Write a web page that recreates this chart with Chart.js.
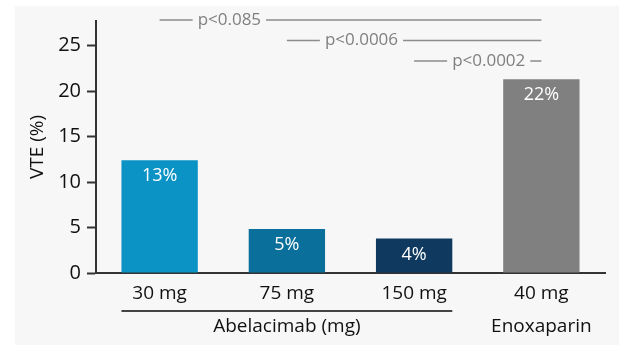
<!DOCTYPE html>
<html><head><meta charset="utf-8">
<script src="https://cdn.jsdelivr.net/npm/chart.js@4/dist/chart.umd.min.js"></script>
<style>html,body{margin:0;padding:0;background:#fff}#wrap{width:636px;height:352px;position:relative}</style>
</head><body><div id="wrap"><canvas id="c" width="636" height="352"></canvas></div>
<script>
const categories = ["30 mg", "75 mg", "150 mg", "40 mg"];
const vteValues = [12.4, 4.85, 3.8, 21.3];
const valueLabels = ["13%", "5%", "4%", "22%"];
const barColors = ["#0b93c5", "#0b6f9b", "#10395f", "#808080"];
const yTicks = [0, 5, 10, 15, 20, 25];
const groups = [{label: "Abelacimab (mg)", from: 0, to: 2, underline: true}, {label: "Enoxaparin", from: 3, to: 3, underline: false}];
const pLabels = ["p<0.085", "p<0.0006", "p<0.0002"];
const pFrom = [0, 1, 2];
const pTo = [3, 3, 3];

const FONT = "'Open Sans', sans-serif";

const decor = {
  id: 'decor',
  beforeDraw(chart) {
    const ctx = chart.ctx;
    ctx.save();
    ctx.fillStyle = '#f7f7f7';
    ctx.fillRect(15, 6, 604, 339);
    ctx.restore();
  },
  afterDatasetsDraw(chart) {
    const ctx = chart.ctx;
    const meta = chart.getDatasetMeta(0);
    const x = chart.scales.x;
    ctx.save();
    ctx.fillStyle = '#ffffff';
    ctx.font = "18px " + FONT;
    ctx.textAlign = 'center';
    ctx.textBaseline = 'middle';
    meta.data.forEach((bar, i) => {
      ctx.fillText(valueLabels[i], bar.x, bar.y + 16);
    });
    ctx.font = "17px " + FONT;
    ctx.strokeStyle = '#8c8c8c';
    ctx.lineWidth = 1.5;
    pLabels.forEach((lab, i) => {
      const y = chart.chartArea.top - 1 + i * 20.5;
      const x0 = x.getPixelForValue(pFrom[i]);
      const x1 = x.getPixelForValue(pTo[i]);
      const tw = ctx.measureText(lab).width;
      const ts = x0 + 38;
      ctx.beginPath();
      ctx.moveTo(x0, y); ctx.lineTo(ts - 5, y);
      ctx.moveTo(ts + tw + 5, y); ctx.lineTo(x1, y);
      ctx.stroke();
      ctx.fillStyle = '#7f7f7f';
      ctx.textAlign = 'left';
      ctx.fillText(lab, ts, y);
    });
    ctx.font = "19px " + FONT;
    ctx.fillStyle = '#111';
    ctx.strokeStyle = '#444';
    ctx.lineWidth = 2;
    groups.forEach(g => {
      const a = meta.data[g.from], b = meta.data[g.to];
      const l = a.x - a.width / 2, r = b.x + b.width / 2;
      if (g.underline) {
        ctx.beginPath(); ctx.moveTo(l, 311); ctx.lineTo(r, 311); ctx.stroke();
      }
      ctx.textAlign = 'center';
      ctx.fillText(g.label, (a.x + b.x) / 2, 327);
    });
    ctx.restore();
  }
};

new Chart(document.getElementById('c'), {
  type: 'bar',
  data: {
    labels: categories,
    datasets: [{ data: vteValues, backgroundColor: barColors, borderWidth: 0, barPercentage: 0.6, categoryPercentage: 1.0 }]
  },
  options: {
    responsive: false,
    animation: false,
    devicePixelRatio: 1,
    layout: { padding: { left: 0, top: 21, right: 31, bottom: 0 } },
    plugins: { legend: { display: false }, tooltip: { enabled: false } },
    scales: {
      x: {
        grid: { display: false, drawTicks: false },
        border: { color: '#333', width: 2 },
        ticks: { color: '#111', font: { family: FONT, size: 19 }, padding: 9 },
        afterFit(s) { s.height = 79; }
      },
      y: {
        min: 0, max: 27.7,
        afterBuildTicks(s) { s.ticks = yTicks.map(v => ({ value: v })); },
        grid: { drawOnChartArea: false, drawTicks: true, tickLength: 9, tickColor: '#333', tickWidth: 2 },
        border: { color: '#333', width: 2 },
        ticks: { color: '#111', font: { family: FONT, size: 20 }, padding: 6 },
        title: { display: true, text: 'VTE (%)', color: '#111', font: { family: FONT, size: 19 }, padding: { top: 26, bottom: 0 } },
        afterFit(s) { s.width = 96; }
      }
    }
  },
  plugins: [decor]
});
</script>
</body></html>
